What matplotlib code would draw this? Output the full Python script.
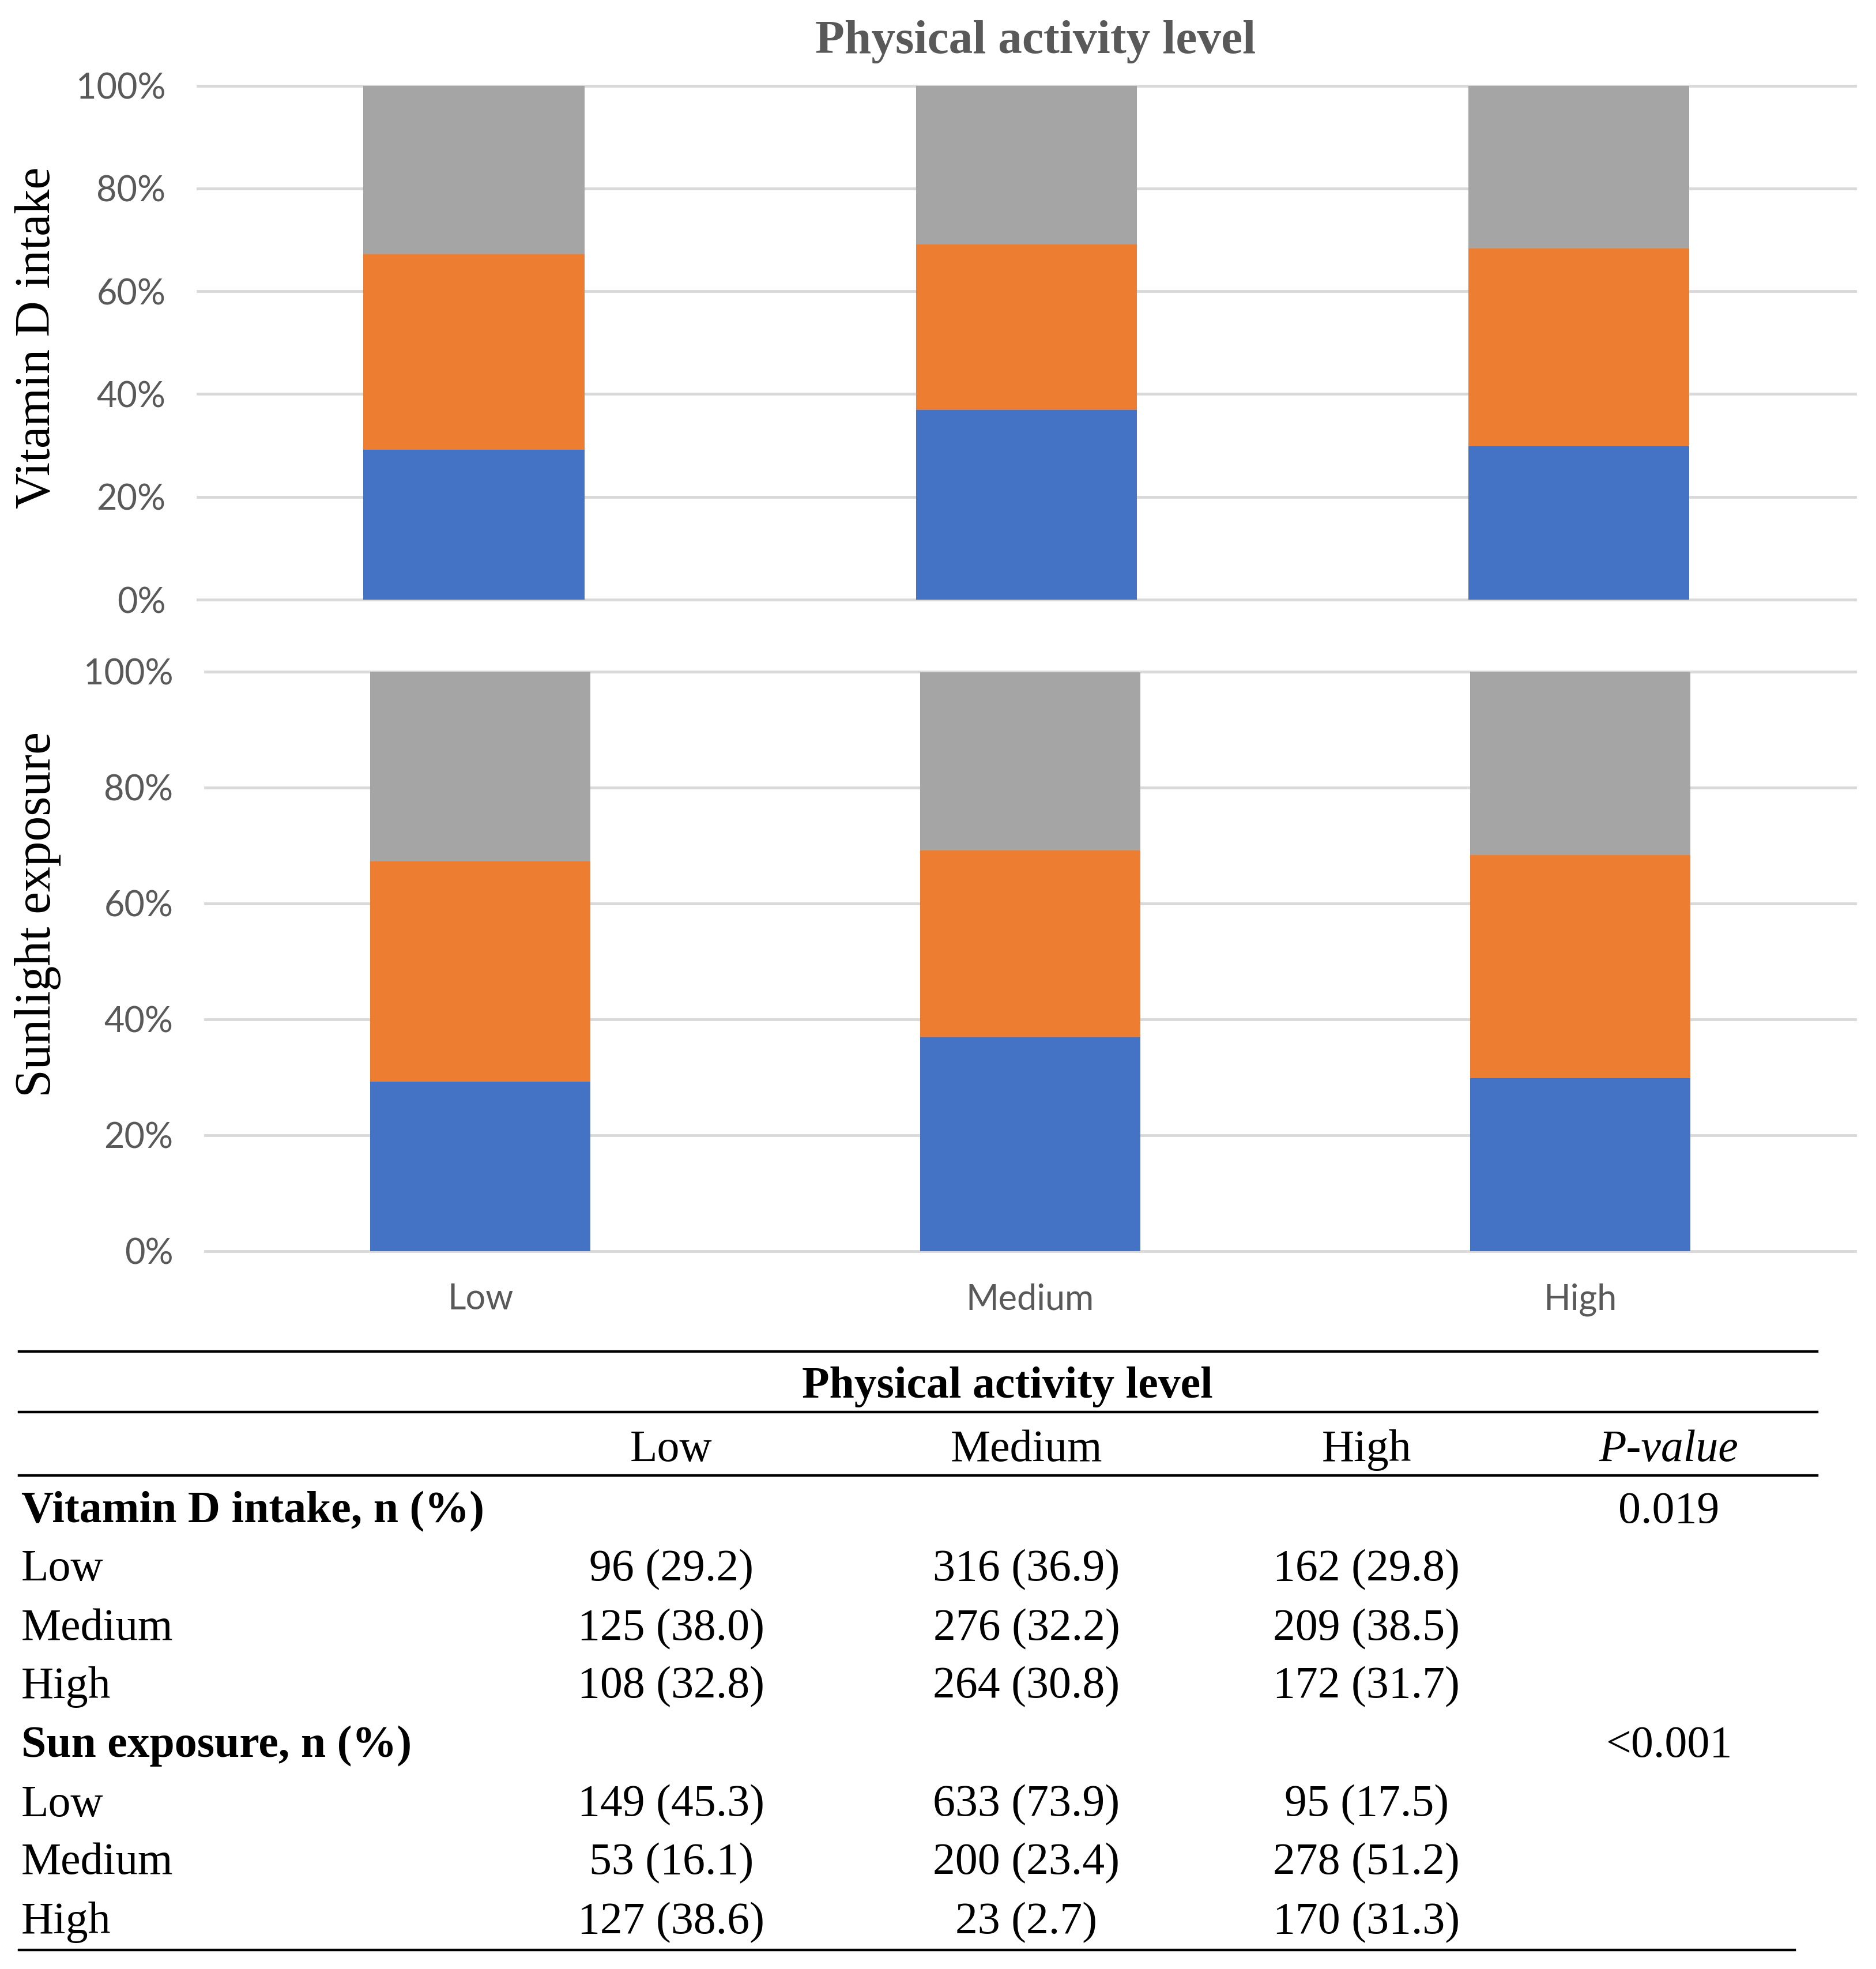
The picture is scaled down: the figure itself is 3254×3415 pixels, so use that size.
import matplotlib
matplotlib.use("Agg")
import matplotlib.pyplot as plt
from matplotlib.lines import Line2D
import numpy as np

# categories (physical activity level)
categories = ["Low", "Medium", "High"]

# stacked bar shares (%)
vit_bar_low = [29.2, 36.9, 29.8]
vit_bar_med = [38.0, 32.2, 38.5]
vit_bar_high = [32.8, 30.8, 31.7]

sun_bar_low = [29.2, 36.9, 29.8]
sun_bar_med = [38.0, 32.2, 38.5]
sun_bar_high = [32.8, 30.8, 31.7]

# table values
vit_n_low = [96, 316, 162]
vit_n_med = [125, 276, 209]
vit_n_high = [108, 264, 172]
vit_p_low = [29.2, 36.9, 29.8]
vit_p_med = [38.0, 32.2, 38.5]
vit_p_high = [32.8, 30.8, 31.7]

sun_n_low = [149, 633, 95]
sun_n_med = [53, 200, 278]
sun_n_high = [127, 23, 170]
sun_p_low = [45.3, 73.9, 17.5]
sun_p_med = [16.1, 23.4, 51.2]
sun_p_high = [38.6, 2.7, 31.3]

p_values = ["0.019", "<0.001"]

BLUE = "#4472C4"
ORANGE = "#ED7D31"
GRAY = "#A5A5A5"
GRID = "#D9D9D9"
TICK = "#595959"
SERIF = ["Liberation Serif", "DejaVu Serif"]
SANS = ["Lato", "DejaVu Sans"]

W, H = 1490.0, 1563.0  # layout measured on a reduced copy of the figure
fx = lambda x: x / W
fy = lambda y: 1 - y / H

fig = plt.figure(figsize=(32.55, 34.15), dpi=100)


def panel(rect, low, med, high, show_x):
    ax = fig.add_axes(rect)
    x = np.arange(len(categories))
    low = np.array(low)
    med = np.array(med)
    high = np.array(high)
    ax.bar(x, low, 0.4, color=BLUE, zorder=2)
    ax.bar(x, med, 0.4, bottom=low, color=ORANGE, zorder=2)
    ax.bar(x, high, 0.4, bottom=low + med, color=GRAY, zorder=2)
    ax.set_xlim(-0.5, 2.5)
    ax.set_ylim(0, 100)
    ticks = np.arange(0, 101, 20)
    for t in ticks:
        ax.axhline(t, color=GRID, lw=3.5, zorder=0, clip_on=False)
    ax.set_yticks(ticks)
    ax.set_yticklabels([f"{t}%" for t in ticks], fontfamily=SANS, fontsize=44, color=TICK)
    for s in ax.spines.values():
        s.set_visible(False)
    ax.tick_params(axis="y", length=0, pad=40)
    ax.set_xticks(x)
    if show_x:
        ax.set_xticklabels(categories, fontfamily=SANS, fontsize=44, color=TICK)
        ax.tick_params(axis="x", length=0, pad=40)
    else:
        ax.tick_params(axis="x", length=0, labelbottom=False)
    return ax


panel([fx(157), fy(476), fx(1473) - fx(157), fy(68) - fy(476)],
      vit_bar_low, vit_bar_med, vit_bar_high, False)
panel([fx(163), fy(993), fx(1473) - fx(163), fy(533) - fy(993)],
      sun_bar_low, sun_bar_med, sun_bar_high, True)

fig.text(fx(822), fy(33), "Physical activity level", ha="center", va="center",
         fontfamily=SERIF, fontsize=60, fontweight="bold", color=TICK)
fig.text(fx(30), fy(268), "Vitamin D intake", rotation=90, ha="center", va="center",
         fontfamily=SERIF, fontsize=62, color="black")
fig.text(fx(30), fy(726), "Sunlight exposure", rotation=90, ha="center", va="center",
         fontfamily=SERIF, fontsize=63, color="black")

# table
def hline(y, x0, x1):
    fig.add_artist(Line2D([fx(x0), fx(x1)], [fy(y), fy(y)], color="black", lw=3.2,
                          transform=fig.transFigure))


hline(1073, 15, 1443)
hline(1121, 15, 1443)
hline(1171, 15, 1443)
hline(1548, 15, 1425)

FS = 56
col_x = [533, 815, 1085]
p_x = 1325

fig.text(fx(800), fy(1101), "Physical activity level", ha="center", va="center",
         fontfamily=SERIF, fontsize=FS, fontweight="bold")
for cx, c in zip(col_x, categories):
    fig.text(fx(cx), fy(1151), c, ha="center", va="center", fontfamily=SERIF, fontsize=FS)
fig.text(fx(p_x), fy(1151), "P-value", ha="center", va="center", fontfamily=SERIF,
         fontsize=FS, style="italic")

blocks = [
    ("Vitamin D intake, n (%)", p_values[0],
     [vit_n_low, vit_n_med, vit_n_high], [vit_p_low, vit_p_med, vit_p_high]),
    ("Sun exposure, n (%)", p_values[1],
     [sun_n_low, sun_n_med, sun_n_high], [sun_p_low, sun_p_med, sun_p_high]),
]
row_y = [1200, 1246, 1293, 1339, 1386, 1433, 1479, 1526]
r = 0
for head, pv, ns, ps in blocks:
    fig.text(fx(17), fy(row_y[r]), head, ha="left", va="center", fontfamily=SERIF,
             fontsize=FS, fontweight="bold")
    fig.text(fx(p_x), fy(row_y[r]), pv, ha="center", va="center", fontfamily=SERIF, fontsize=FS)
    r += 1
    for lab, nrow, prow in zip(categories, ns, ps):
        fig.text(fx(17), fy(row_y[r]), lab, ha="left", va="center", fontfamily=SERIF, fontsize=FS)
        for cx, n, p in zip(col_x, nrow, prow):
            fig.text(fx(cx), fy(row_y[r]), f"{n} ({p:.1f})", ha="center", va="center",
                     fontfamily=SERIF, fontsize=FS)
        r += 1

fig.savefig("out.png", dpi=100, facecolor="white")
